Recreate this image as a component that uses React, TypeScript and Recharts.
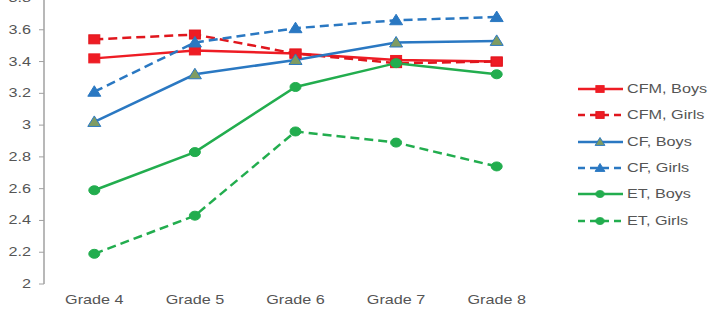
import { LineChart, Line, XAxis, YAxis } from "recharts";

const grades = ["Grade 4", "Grade 5", "Grade 6", "Grade 7", "Grade 8"];
const cfmBoys = [3.42, 3.47, 3.45, 3.41, 3.4];
const cfmGirls = [3.54, 3.57, 3.45, 3.39, 3.4];
const cfBoys = [3.02, 3.32, 3.41, 3.52, 3.53];
const cfGirls = [3.21, 3.52, 3.61, 3.66, 3.68];
const etBoys = [2.59, 2.83, 3.24, 3.39, 3.32];
const etGirls = [2.19, 2.43, 2.96, 2.89, 2.74];
const yTicks = [2, 2.2, 2.4, 2.6, 2.8, 3, 3.2, 3.4, 3.6, 3.8];
const boundaryTicks = [0, 1, 2, 3, 4, 5];

const RED = "#ee1c24";
const RED_DARK = "#e0161d";
const BLUE = "#2a78c2";
const GREEN = "#22ad4e";
const TEXT = "#555555";
const AXIS = "#a0a0a0";
const FONT = "'Liberation Sans', Arial, sans-serif";
const STRETCH = 1.35;

const data = grades.map((g, i) => ({
  grade: g,
  cfmBoys: cfmBoys[i],
  cfmGirls: cfmGirls[i],
  cfBoys: cfBoys[i],
  cfGirls: cfGirls[i],
  etBoys: etBoys[i],
  etGirls: etGirls[i],
}));

type Shape = "square" | "triangle" | "circle";

const marker = (shape: Shape, cx: number, cy: number, fill: string, stroke: string, key?: string, k = 1) => {
  if (shape === "square") {
    return <rect key={key} x={cx - 5.5 * k} y={cy - 4.5 * k} width={11 * k} height={9 * k} fill={fill} stroke={stroke} strokeWidth={1} />;
  }
  if (shape === "triangle") {
    return (
      <polygon
        key={key}
        points={`${cx},${cy - 6 * k} ${cx + 6.5 * k},${cy + 4.5 * k} ${cx - 6.5 * k},${cy + 4.5 * k}`}
        fill={fill}
        stroke={stroke}
        strokeWidth={1}
      />
    );
  }
  return <ellipse key={key} cx={cx} cy={cy} rx={5.5 * k} ry={4.5 * k} fill={fill} stroke={stroke} strokeWidth={1} />;
};

const series = [
  { key: "cfmBoys", name: "CFM, Boys", color: RED, dash: undefined, shape: "square" as Shape, fill: RED, stroke: RED },
  { key: "cfmGirls", name: "CFM, Girls", color: RED_DARK, dash: "9 5", shape: "square" as Shape, fill: RED, stroke: RED_DARK },
  { key: "cfBoys", name: "CF, Boys", color: BLUE, dash: undefined, shape: "triangle" as Shape, fill: "#7f9c62", stroke: BLUE },
  { key: "cfGirls", name: "CF, Girls", color: BLUE, dash: "9 5", shape: "triangle" as Shape, fill: BLUE, stroke: BLUE },
  { key: "etBoys", name: "ET, Boys", color: GREEN, dash: undefined, shape: "circle" as Shape, fill: GREEN, stroke: GREEN },
  { key: "etGirls", name: "ET, Girls", color: GREEN, dash: "9 5", shape: "circle" as Shape, fill: GREEN, stroke: GREEN },
];

const YTick = (props: any) => {
  const { x, y, payload } = props;
  const v = Number(payload.value);
  return (
    <text
      x={0}
      y={0}
      dy={4}
      transform={`translate(${x},${y}) scale(${STRETCH},1)`}
      textAnchor="end"
      fontSize={12}
      fontFamily={FONT}
      fill={TEXT}
    >
      {String(parseFloat(v.toFixed(1)))}
    </text>
  );
};

const XTick = (props: any) => {
  const { x, y, payload } = props;
  return (
    <text
      x={0}
      y={0}
      dy={12}
      transform={`translate(${x},${y}) scale(${STRETCH},1)`}
      textAnchor="middle"
      fontSize={12}
      fontFamily={FONT}
      fill={TEXT}
    >
      {payload.value}
    </text>
  );
};

const ChartLegend = () => (
  <div style={{ position: "absolute", left: 576, top: 76, fontFamily: FONT, fontSize: 12, color: TEXT }}>
    {series.map((s) => (
      <div key={s.key} style={{ display: "flex", alignItems: "center", height: 26.3 }}>
        <svg width={48} height={14} style={{ display: "block" }}>
          <line x1={2} y1={7} x2={47} y2={7} stroke={s.color} strokeWidth={2.5} strokeDasharray={s.dash ? "7 5" : undefined} />
          {marker(s.shape, 24, 7, s.fill, s.stroke, undefined, 0.75)}
        </svg>
        <span style={{ display: "inline-block", transform: `scaleX(${STRETCH})`, transformOrigin: "left center", marginLeft: 3, whiteSpace: "nowrap" }}>
          {s.name}
        </span>
      </div>
    ))}
  </div>
);

export default function App() {
  return (
    <div style={{ position: "absolute", left: 0, top: 0, width: 711, height: 312, background: "#fff" }}>
      <LineChart width={711} height={312} data={data} margin={{ top: -2, right: 164, left: 0, bottom: 0 }}>
        <XAxis
          xAxisId="grid"
          type="number"
          domain={[0, 5]}
          ticks={boundaryTicks}
          allowDataOverflow
          height={0}
          tickSize={5}
          tickFormatter={() => ""}
          stroke={AXIS}
          axisLine={{ stroke: AXIS, strokeWidth: 1.5 }}
          tickLine={{ stroke: AXIS }}
        />
        <XAxis
          xAxisId="cat"
          dataKey="grade"
          scale="band"
          height={28}
          axisLine={false}
          tickLine={false}
          tick={<XTick />}
          interval={0}
        />
        <YAxis
          domain={[2, 3.8]}
          ticks={yTicks}
          width={44}
          tickSize={5}
          tickMargin={8}
          stroke={AXIS}
          axisLine={{ stroke: AXIS, strokeWidth: 1.5 }}
          tickLine={{ stroke: AXIS }}
          tick={<YTick />}
          interval={0}
          allowDataOverflow
        />
        {series.map((s) => (
          <Line
            key={s.key}
            xAxisId="cat"
            type="linear"
            dataKey={s.key}
            name={s.name}
            stroke={s.color}
            strokeWidth={2.5}
            strokeDasharray={s.dash}
            isAnimationActive={false}
            activeDot={false}
            dot={(p: any) => marker(s.shape, p.cx, p.cy, s.fill, s.stroke, `${s.key}-${p.index}`)}
          />
        ))}
      </LineChart>
      <ChartLegend />
    </div>
  );
}
